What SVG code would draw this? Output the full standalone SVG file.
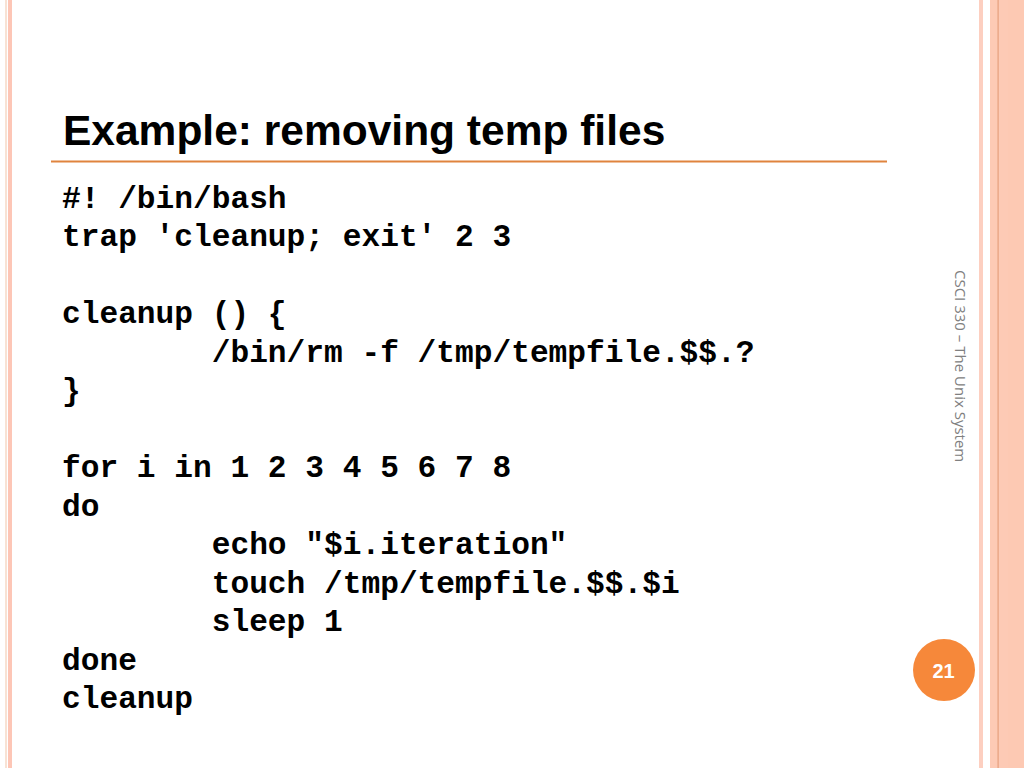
<svg xmlns="http://www.w3.org/2000/svg" width="1024" height="768" viewBox="0 0 1024 768">
<style>
.code{font-family:"Liberation Mono","Courier New",monospace;font-weight:bold;font-size:31.2px;fill:#000;white-space:pre}
.title{font-family:"Liberation Sans",Arial,sans-serif;font-weight:bold;font-size:42.5px;fill:#000}
.side{font-family:"Open Sans","Noto Sans",sans-serif;font-size:15px;fill:#808080}
.num{font-family:"Liberation Sans",Arial,sans-serif;font-weight:bold;font-size:20px;fill:#fff}
</style>
<rect width="1024" height="768" fill="#fff"/>
<g id="borders">
<rect x="5" y="0" width="2" height="768" fill="#F8E2D4"/>
<rect x="8" y="0" width="4" height="768" fill="#FDC6B6"/>
<rect x="979" y="0" width="4" height="768" fill="#FDCFC0"/>
<rect x="990" y="0" width="34" height="768" fill="#FDCAB5"/>
<rect x="1008" y="0" width="16" height="768" fill="#FDC9B3"/>
<rect x="997.5" y="0" width="1.2" height="768" fill="#E6A07E"/>
</g>
<g id="title">
<text class="title" x="63" y="145">Example: removing temp files</text>
<line x1="51" y1="161.5" x2="887" y2="161.5" stroke="#E0843E" stroke-width="2"/>
</g>
<g id="code">
<text class="code" x="62" y="207.5">#! /bin/bash</text>
<text class="code" x="62" y="246">trap 'cleanup; exit' 2 3</text>
<text class="code" x="62" y="323">cleanup () {</text>
<text class="code" x="62" y="361.5">        /bin/rm -f /tmp/tempfile.$$.?</text>
<text class="code" x="62" y="400">}</text>
<text class="code" x="62" y="477">for i in 1 2 3 4 5 6 7 8</text>
<text class="code" x="62" y="515.5">do</text>
<text class="code" x="62" y="554">        echo "$i.iteration"</text>
<text class="code" x="62" y="592.5">        touch /tmp/tempfile.$$.$i</text>
<text class="code" x="62" y="631">        sleep 1</text>
<text class="code" x="62" y="669.5">done</text>
<text class="code" x="62" y="708">cleanup</text>
</g>
<g id="sidebar">
<text class="side" transform="translate(955,270) rotate(90)">CSCI 330 – The Unix System</text>
</g>
<g id="page-number">
<circle cx="944" cy="670" r="31" fill="#F6883A"/>
<text class="num" x="943.5" y="678" text-anchor="middle">21</text>
</g>
</svg>
